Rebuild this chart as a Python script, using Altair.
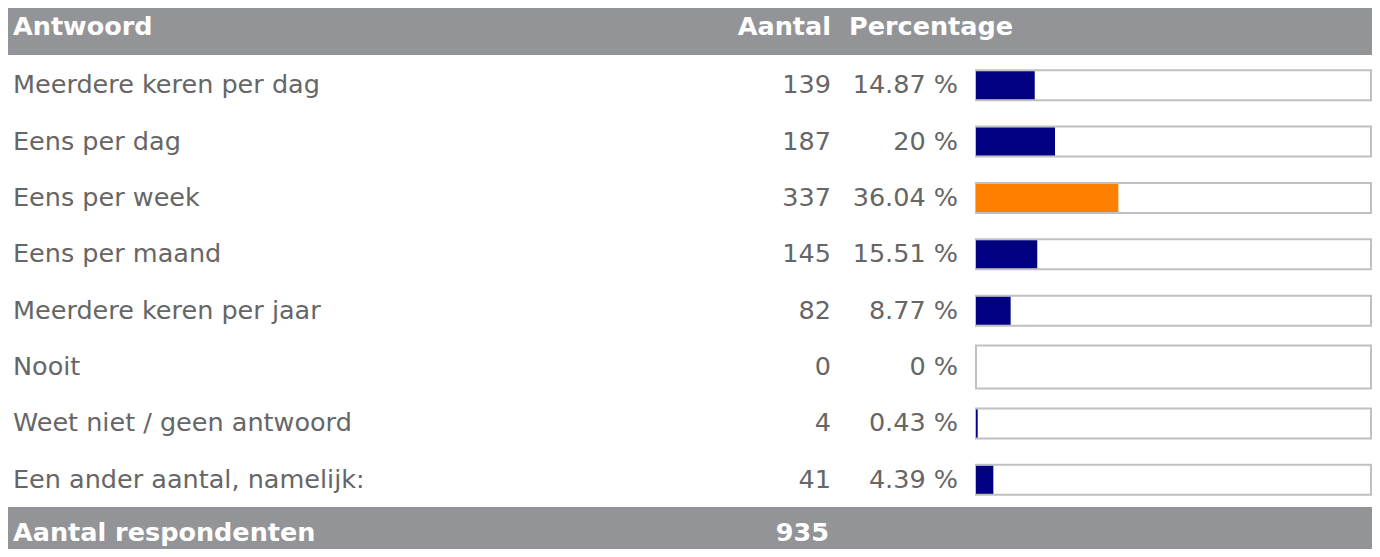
import altair as alt
import pandas as pd

answers = [
    "Meerdere keren per dag",
    "Eens per dag",
    "Eens per week",
    "Eens per maand",
    "Meerdere keren per jaar",
    "Nooit",
    "Weet niet / geen antwoord",
    "Een ander aantal, namelijk:",
]
counts = [139, 187, 337, 145, 82, 0, 4, 41]
percents = [14.87, 20, 36.04, 15.51, 8.77, 0, 0.43, 4.39]
header_labels = ["Antwoord", "Aantal", "Percentage"]
footer_label = "Aantal respondenten"

df = pd.DataFrame({
    "answer": answers,
    "count": counts,
    "pct": percents,
    "pct_label": [f"{p:g} %" for p in percents],
    "full": [100] * len(answers),
})

FONT = "DejaVu Sans"
FS = 25.5
GRAY = "#939498"
TXT = "#666666"
W, H = 1364, 541

yenc = alt.Y("answer:N", sort=answers, axis=None,
             scale=alt.Scale(type="band", domain=answers, range=[49, 500],
                             paddingInner=0, paddingOuter=0))
xscale = alt.Scale(domain=[0, 100], range=[968, 1363])

base = alt.Chart(df)
one = pd.DataFrame({"k": [0]})

header_bg = alt.Chart(one).mark_rect(color=GRAY).encode(
    x=alt.value(0), x2=alt.value(W), y=alt.value(0), y2=alt.value(47))
footer_bg = alt.Chart(one).mark_rect(color=GRAY).encode(
    x=alt.value(0), x2=alt.value(W), y=alt.value(499), y2=alt.value(H))

hdr = pd.DataFrame({"t": header_labels, "pos": ["a", "b", "c"]})


def htext(d, align, x, y):
    return alt.Chart(d).mark_text(font=FONT, fontSize=FS, fontWeight="bold", color="white",
                                  align=align, baseline="middle").encode(
        text="t:N", x=alt.value(x), y=alt.value(y))


h1 = htext(hdr[hdr.pos == "a"], "left", 5, 19)
h2 = htext(hdr[hdr.pos == "b"], "right", 823, 19)
h3 = htext(hdr[hdr.pos == "c"], "left", 841, 19)

ftr = pd.DataFrame({"t": [footer_label, str(sum(counts))], "pos": ["a", "b"]})
f1 = htext(ftr[ftr.pos == "a"], "left", 5, 525)
f2 = htext(ftr[ftr.pos == "b"], "right", 821, 525)

labels = base.mark_text(font=FONT, fontSize=FS, color=TXT, align="left", baseline="middle").encode(
    y=yenc, x=alt.value(5), text="answer:N")
cnt = base.mark_text(font=FONT, fontSize=FS, color=TXT, align="right", baseline="middle").encode(
    y=yenc, x=alt.value(823), text="count:Q")
pct = base.mark_text(font=FONT, fontSize=FS, color=TXT, align="right", baseline="middle").encode(
    y=yenc, x=alt.value(950), text="pct_label:N")

box = base.transform_filter("datum.count > 0").mark_bar(
    fill="white", stroke="#c0c0c0", strokeWidth=2, height=30).encode(
    y=yenc, x=alt.X("full:Q", scale=xscale, axis=None), x2=alt.datum(0))
box0 = base.transform_filter("datum.count == 0").mark_bar(
    fill="white", stroke="#c0c0c0", strokeWidth=2, height=43).encode(
    y=yenc, x=alt.X("full:Q", scale=xscale, axis=None), x2=alt.datum(0))

bars = base.transform_joinaggregate(mx="max(count)").transform_calculate(
    top="datum.count == datum.mx ? 'max' : 'other'"
).transform_filter("datum.count > 0").mark_bar(height=28).encode(
    y=yenc,
    x=alt.X("pct:Q", scale=xscale, axis=None),
    x2=alt.datum(0),
    color=alt.Color("top:N", scale=alt.Scale(domain=["max", "other"], range=["#ff8000", "#000080"]),
                    legend=None),
)

chart = alt.layer(header_bg, footer_bg, h1, h2, h3, f1, f2, labels, cnt, pct, box, box0, bars).properties(
    width=W, height=H, padding=0, autosize=alt.AutoSizeParams(type="none")
).configure_view(strokeWidth=0)

chart.save("out.html", embed_options={"renderer": "svg", "actions": False})
